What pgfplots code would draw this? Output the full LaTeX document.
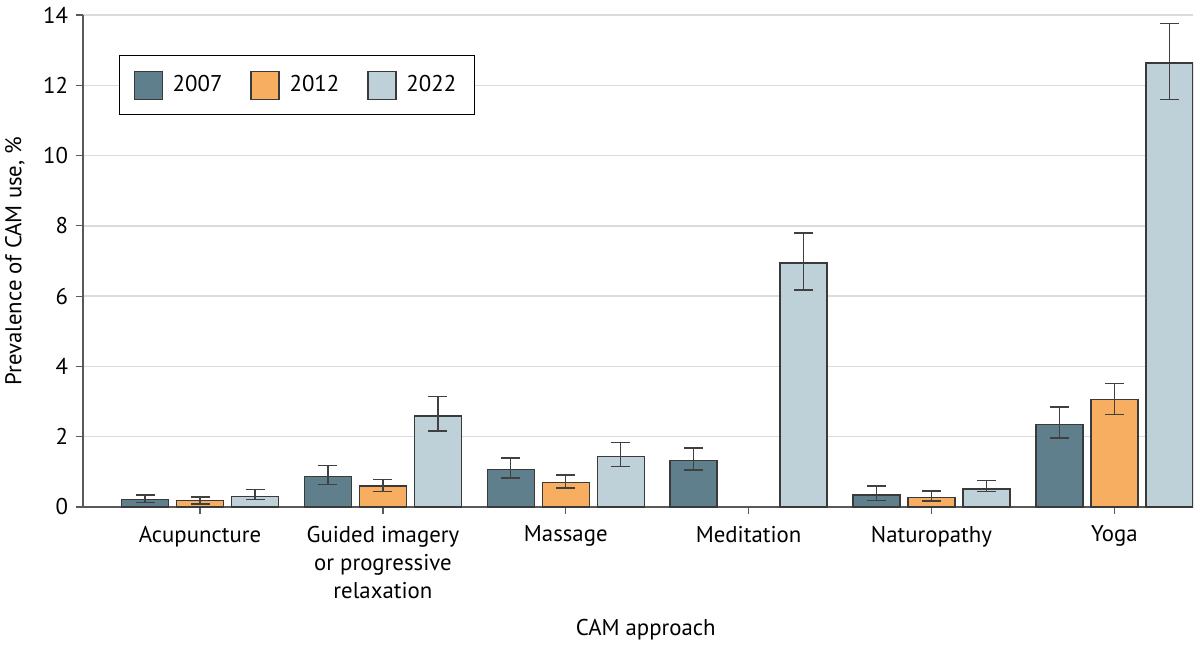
\documentclass[border=0pt]{standalone}
\usepackage{fontspec}
\setmainfont{PT Sans}
\usepackage{pgfplots}
\pgfplotsset{compat=1.18}
\usetikzlibrary{calc}

\definecolor{c07}{HTML}{5E7F8B}
\definecolor{c12}{HTML}{F8AE60}
\definecolor{c22}{HTML}{BFD1D8}
\definecolor{edge}{HTML}{3A3A3A}

\pgfplotsset{
  sw/.style={legend image code/.code={%
    \draw[##1, draw=edge, line width=0.6bp] (0bp,-7bp) rectangle (14bp,7bp);}},
}

\begin{document}
\fontsize{11.4bp}{14bp}\selectfont
\begin{tikzpicture}
  \begin{axis}[
    name=ax,
    width=555bp, height=246bp, scale only axis,
    xmin=-0.64, xmax=5.43, ymin=0, ymax=14,
    ybar=4bp, bar width=23.5bp,
    xtick={0,1,2,3,4,5},
    xticklabels={Acupuncture, {Guided imagery\\or progressive\\relaxation}, Massage, Meditation, Naturopathy, Yoga},
    xticklabel style={align=center, anchor=north, yshift=-2bp},
    ytick={0,2,...,14},
    /pgf/number format/assume math mode=true,
    axis x line*=bottom, axis y line*=left,
    axis line style={draw=black!65, line width=0.6bp},
    tick align=outside, major tick length=3.5bp,
    tick style={draw=black!65, line width=0.6bp},
    ymajorgrids, grid style={draw=black!14, line width=0.75bp},
    ylabel={Prevalence of CAM use, \%},
    xlabel={CAM approach},
    every axis y label/.style={at={(axis description cs:-0.0613,0.5)}, rotate=90, anchor=center},
    every axis x label/.style={at={(axis description cs:0.507,-0.25)}, anchor=center},
    legend style={at={(axis description cs:0.0324,0.9187)}, anchor=north west,
      legend columns=3, draw=black, line width=0.6bp,
      inner xsep=7bp, inner ysep=7.5bp,
      /tikz/every odd column/.append style={column sep=3bp},
      /tikz/every even column/.append style={column sep=12bp}},
    error bars/y dir=both, error bars/y explicit,
    error bars/error bar style={line width=0.7bp, draw=black!75},
    error bars/error mark options={rotate=90, mark size=4.75bp, line width=0.7bp, draw=black!75},
  ]
  % 2007
  \addplot[sw, fill=c07, draw=edge, line width=0.65bp] coordinates {
    (0,0.22) += (0,0.12) -= (0,0.09)
    (1,0.86) += (0,0.32) -= (0,0.22)
    (2,1.07) += (0,0.32) -= (0,0.24)
    (3,1.33) += (0,0.35) -= (0,0.28)
    (4,0.34) += (0,0.26) -= (0,0.15)
    (5,2.34) += (0,0.50) -= (0,0.38)
  };
  \addlegendentry{2007}
  % 2012 (no meditation value)
  \addplot[sw, fill=c12, draw=edge, line width=0.65bp] coordinates {
    (0,0.18) += (0,0.10) -= (0,0.09)
    (1,0.60) += (0,0.19) -= (0,0.16)
    (2,0.70) += (0,0.21) -= (0,0.16)
    (4,0.28) += (0,0.18) -= (0,0.11)
    (5,3.05) += (0,0.46) -= (0,0.41)
  };
  \addlegendentry{2012}
  % 2022
  \addplot[sw, fill=c22, draw=edge, line width=0.65bp] coordinates {
    (0,0.29) += (0,0.21) -= (0,0.07)
    (1,2.59) += (0,0.55) -= (0,0.43)
    (2,1.44) += (0,0.40) -= (0,0.29)
    (3,6.94) += (0,0.86) -= (0,0.76)
    (4,0.51) += (0,0.25) -= (0,0.07)
    (5,12.63) += (0,1.12) -= (0,1.04)
  };
  \addlegendentry{2022}
  \end{axis}
  \pgfresetboundingbox
  \path[use as bounding box] ($(ax.south west)+(-41.5bp,-69bp)$) rectangle ($(ax.north east)+(3.5bp,7.5bp)$);
\end{tikzpicture}
\end{document}
